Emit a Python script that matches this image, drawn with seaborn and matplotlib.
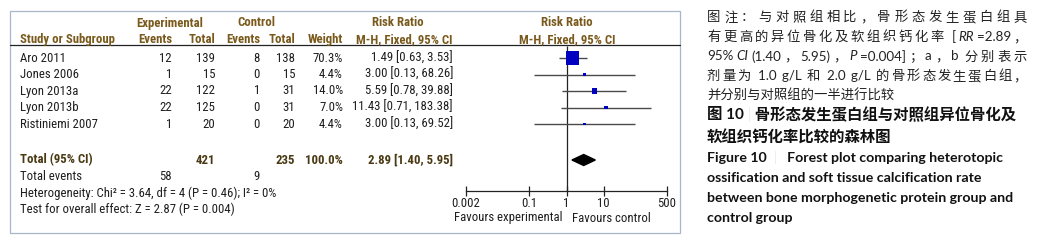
import matplotlib
matplotlib.use("Agg")
import matplotlib.pyplot as plt
import seaborn as sns
import numpy as np
import pandas as pd
from matplotlib import font_manager as fm
from matplotlib.patches import Rectangle

# ---------------- data ----------------
studies = ["Aro 2011", "Jones 2006", "Lyon 2013a", "Lyon 2013b", "Ristiniemi 2007"]
exp_events = [12, 1, 22, 22, 1]
exp_total = [139, 15, 122, 125, 20]
ctrl_events = [8, 0, 1, 0, 0]
ctrl_total = [138, 15, 31, 31, 20]
weights = [70.3, 4.4, 14.0, 7.0, 4.4]
rr = [1.49, 3.00, 5.59, 11.43, 3.00]
ci_low = [0.63, 0.13, 0.78, 0.71, 0.13]
ci_high = [3.53, 68.26, 39.88, 183.38, 69.52]
total_exp = 421
total_ctrl = 235
total_weight = 100.0
total_rr = [2.89]
total_lo = [1.40]
total_hi = [5.95]
events_exp = 58
events_ctrl = 9
het_text = "Heterogeneity: Chi\u00b2 = 3.64, df = 4 (P = 0.46); I\u00b2 = 0%"
overall_text = "Test for overall effect: Z = 2.87 (P = 0.004)"
axis_ticks = [0.002, 0.1, 1, 10, 500]
axis_tick_labels = ["0.002", "0.1", "1", "10", "500"]
favours = ["Favours experimental", "Favours control"]

# caption lines: list of runs (text, style); flag = justify to full width
caption_note = [
    ([("图注：与对照组相比，骨形态发生蛋白组具", {})], True),
    ([("有更高的异位骨化及软组织钙化率 [", {}), ("RR", {"style": "italic"}), ("=2.89，", {})], True),
    ([("95%", {}), ("CI", {"style": "italic"}), ("(1.40，5.95)，", {}), ("P", {"style": "italic"}),
      ("=0.004]；a，b 分别表示", {})], True),
    ([("剂量为 1.0 g/L 和 2.0 g/L 的骨形态发生蛋白组，", {})], True),
    ([("并分别与对照组的一半进行比较", {})], False),
]
caption_title = [
    [("图 10 ", {}), ("|", {"color": "#a0a0a0", "weight": "light"}),
     (" 骨形态发生蛋白组与对照组异位骨化及", {})],
    [("软组织钙化率比较的森林图", {})],
]
caption_en = [
    [("Figure 10  ", {}), ("|", {"color": "#a0a0a0", "weight": "light"}),
     ("   Forest plot comparing heterotopic", {})],
    [("ossification and soft tissue calcification rate", {})],
    [("between bone morphogenetic protein group and", {})],
    [("control group", {})],
]

# ---------------- style ----------------
sns.set_theme(style="white")
avail = {f.name for f in fm.fontManager.ttflist}
TF = "Liberation Sans"
for cand in ["Liberation Sans Narrow", "Arial Narrow", "Roboto Condensed", "PT Sans Narrow"]:
    if cand in avail:
        TF = cand
        break
plt.rcParams["font.family"] = [TF, "DejaVu Sans"]
MIX = ["Lato", "Noto Sans CJK SC", "DejaVu Sans"]
EN = ["Lato", "DejaVu Sans"]

HDR = "#7a5a1c"
TOT = "#4a3a14"
TXT = "#1e1e1e"
FS = 9.2

fig = plt.figure(figsize=(10.4, 2.41), dpi=100)
bg = fig.add_axes([0, 0, 1, 1])
bg.set_xlim(0, 1040)
bg.set_ylim(241, 0)
bg.axis("off")

# frame and header line
bg.add_patch(Rectangle((9.5, 10.5), 670.5, 222, fill=False, edgecolor="#a9b6c9", lw=0.9))
bg.plot([9.5, 680], [44.5, 44.5], color="#222222", lw=0.9)

# headers
bg.text(170, 23, "Experimental", ha="center", va="center", fontsize=FS, weight="bold", color=HDR)
bg.text(256, 23, "Control", ha="center", va="center", fontsize=FS, weight="bold", color=HDR)
bg.text(398, 23, "Risk Ratio", ha="center", va="center", fontsize=FS, weight="bold", color=HDR)
bg.text(567, 23, "Risk Ratio", ha="center", va="center", fontsize=FS, weight="bold", color=HDR)
hy = 39.5
bg.text(20, hy, "Study or Subgroup", ha="left", va="center", fontsize=FS, weight="bold", color=HDR)
for xr, s in [(172, "Events"), (215, "Total"), (260, "Events"), (295, "Total"), (343, "Weight"),
              (453, "M-H, Fixed, 95% CI")]:
    bg.text(xr, hy, s, ha="right", va="center", fontsize=FS, weight="bold", color=HDR)
bg.text(567, hy, "M-H, Fixed, 95% CI", ha="center", va="center", fontsize=FS, weight="bold", color=HDR)

# rows
row_y = [58 + 16.5 * i for i in range(len(studies))]
for i, y in enumerate(row_y):
    bg.text(20, y, studies[i], ha="left", va="center", fontsize=FS, color=TXT)
    bg.text(172, y, str(exp_events[i]), ha="right", va="center", fontsize=FS, color=TXT)
    bg.text(215, y, str(exp_total[i]), ha="right", va="center", fontsize=FS, color=TXT)
    bg.text(260, y, str(ctrl_events[i]), ha="right", va="center", fontsize=FS, color=TXT)
    bg.text(295, y, str(ctrl_total[i]), ha="right", va="center", fontsize=FS, color=TXT)
    bg.text(343, y, f"{weights[i]:.1f}%", ha="right", va="center", fontsize=FS, color=TXT)
    bg.text(453, y, f"{rr[i]:.2f} [{ci_low[i]:.2f}, {ci_high[i]:.2f}]", ha="right", va="center",
            fontsize=FS, color=TXT)

ty = 160
bg.text(20, ty, "Total (95% CI)", ha="left", va="center", fontsize=FS, weight="bold", color=TOT)
bg.text(215, ty, str(total_exp), ha="right", va="center", fontsize=FS, weight="bold", color=TOT)
bg.text(295, ty, str(total_ctrl), ha="right", va="center", fontsize=FS, weight="bold", color=TOT)
bg.text(343, ty, f"{total_weight:.1f}%", ha="right", va="center", fontsize=FS, weight="bold", color=TOT)
bg.text(453, ty, f"{total_rr[0]:.2f} [{total_lo[0]:.2f}, {total_hi[0]:.2f}]", ha="right", va="center",
        fontsize=FS, weight="bold", color=TOT)
ey = 177
bg.text(20, ey, "Total events", ha="left", va="center", fontsize=FS, color=TXT)
bg.text(172, ey, str(events_exp), ha="right", va="center", fontsize=FS, color=TXT)
bg.text(260, ey, str(events_ctrl), ha="right", va="center", fontsize=FS, color=TXT)
bg.text(20, 193.5, het_text, ha="left", va="center", fontsize=FS, color=TXT)
bg.text(20, 209, overall_text, ha="left", va="center", fontsize=FS, color=TXT)

# ---------------- forest panel ----------------
x0, x1 = 466, 667
fax = fig.add_axes([x0 / 1040, 0, (x1 - x0) / 1040, 1])
fax.set_xscale("log")
fax.set_xlim(axis_ticks[0], axis_ticks[-1])
fax.set_ylim(241, 0)
fax.patch.set_visible(False)
for s in ["top", "left", "right"]:
    fax.spines[s].set_visible(False)
fax.spines["bottom"].set_position(("data", 191))
fax.spines["bottom"].set_color("#222222")
fax.spines["bottom"].set_linewidth(0.9)
fax.set_xticks(axis_ticks)
fax.set_xticklabels(axis_tick_labels)
fax.xaxis.set_minor_locator(matplotlib.ticker.NullLocator())
fax.tick_params(axis="x", direction="inout", length=7, width=0.9, color="#222222",
                labelsize=FS, labelcolor=TXT, pad=1, bottom=True)
fax.set_yticks([])
fax.grid(False)

fax.vlines(1, 46, 191, color="#222222", lw=0.9)
fax.hlines(row_y, ci_low, ci_high, color="#4a4a4a", lw=1.0)
df = pd.DataFrame({"rr": rr, "y": row_y, "w": weights})
sns.scatterplot(data=df, x="rr", y="y", size="w", sizes=(4, 88), size_norm=(4.4, 70.3),
                marker="s", color="#0000c0", edgecolor="none", linewidth=0, legend=False,
                ax=fax, zorder=3)
fax.set_xlabel("")
fax.set_ylabel("")
dh = 5.5
fax.fill([total_lo[0], total_rr[0], total_hi[0], total_rr[0]],
         [ty, ty - dh, ty, ty + dh], color="black", zorder=3)
bg.text(562, 218, favours[0], ha="right", va="center", fontsize=FS, color=TXT)
bg.text(572, 218, favours[1], ha="left", va="center", fontsize=FS, color=TXT)

# ---------------- caption ----------------
fig.canvas.draw()
renderer = fig.canvas.get_renderer()
CAP_L, CAP_R = 707, 1027


def is_wide(ch):
    return ord(ch) > 0x2E80


def tokenize(runs):
    toks = []
    for s, kw in runs:
        cur = ""
        for ch in s:
            if ch == " ":
                cur += ch
                toks.append((cur, kw)); cur = ""
            elif is_wide(ch):
                if cur:
                    toks.append((cur, kw)); cur = ""
                toks.append((ch, kw))
            else:
                cur += ch
        if cur:
            toks.append((cur, kw))
    return toks


def width_of(s, kw, family, size, weight):
    opts = {"weight": weight}
    opts.update({k: v for k, v in kw.items() if k != "color"})
    t = bg.text(0, 0, s, fontsize=size, family=family, **opts)
    bb = t.get_window_extent(renderer=renderer)
    t.remove()
    return (bb.x1 - bb.x0) * 1040 / fig.bbox.width


def draw_line(y, runs, family, size, color, weight="normal", justify=False):
    toks = tokenize(runs) if justify else list(runs)
    widths = [width_of(s, kw, family, size, weight) for s, kw in toks]
    gap = 0.0
    if justify and len(toks) > 1:
        gap = max(0.0, (CAP_R - CAP_L - sum(widths)) / (len(toks) - 1))
    x = CAP_L
    for (s, kw), w in zip(toks, widths):
        opts = {"weight": weight, "color": color}
        opts.update(kw)
        bg.text(x, y, s, ha="left", va="center", fontsize=size, family=family, **opts)
        x += w + gap


note_y = [17, 37, 56.5, 76, 95.5]
for (ln, just), y in zip(caption_note, note_y):
    draw_line(y, ln, MIX, 9.6, "#222222", justify=just)
title_y = [115, 138]
for ln, y in zip(caption_title, title_y):
    draw_line(y, ln, MIX, 11.1, "#111111", weight="bold")
en_y = [158, 178, 198, 218]
for ln, y in zip(caption_en, en_y):
    draw_line(y, ln, EN, 10.2, "#111111", weight="bold")

fig.savefig("out.png", dpi=100)
